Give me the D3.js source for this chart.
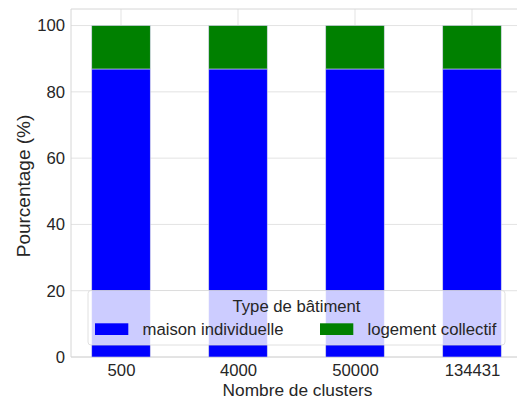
<!DOCTYPE html>
<html><head><meta charset="utf-8">
<script src="https://cdn.jsdelivr.net/npm/d3@7"></script>
<style>body{margin:0;background:#fff}svg{display:block}text{font-family:"Liberation Sans",Arial,sans-serif;fill:#262626}</style>
</head><body>
<svg id="chart" width="517" height="399"></svg>
<script>
const categories = ["500", "4000", "50000", "134431"];
const seriesNames = ["maison individuelle", "logement collectif"];
const maison = [86.9, 86.9, 86.9, 86.9];
const logement = [13.1, 13.1, 13.1, 13.1];
const colors = ["#0000ff", "#008000"];
const yTicks = [0, 20, 40, 60, 80, 100];
const legendTitle = "Type de bâtiment";
const xTitle = "Nombre de clusters";
const yTitle = "Pourcentage (%)";

const svg = d3.select("#chart");
const L = 71, T = 9, B = 357, R = 522;
const x = d3.scaleLinear().domain([-0.4274, categories.length - 1 + 0.4274]).range([L, R]);
const y = d3.scaleLinear().domain([0, 105]).range([B, T]);
const fs = 16.7;

// grid
const g = svg.append("g");
g.selectAll(".hg").data(yTicks).enter().append("line")
  .attr("x1", L).attr("x2", R).attr("y1", d => y(d)).attr("y2", d => y(d))
  .attr("stroke", "#e3e3e3").attr("stroke-width", 1);
g.selectAll(".vg").data(categories).enter().append("line")
  .attr("x1", (d, i) => x(i)).attr("x2", (d, i) => x(i)).attr("y1", T).attr("y2", B)
  .attr("stroke", "#e3e3e3").attr("stroke-width", 1);

// spines
svg.append("line").attr("x1", L).attr("x2", L).attr("y1", T).attr("y2", B).attr("stroke", "#d6d6d6");
svg.append("line").attr("x1", L).attr("x2", R).attr("y1", T).attr("y2", T).attr("stroke", "#d6d6d6");
svg.append("line").attr("x1", L).attr("x2", R).attr("y1", B).attr("y2", B).attr("stroke", "#d6d6d6");

// stacked bars
const rows = categories.map((c, i) => ({ cat: c, i, maison: maison[i], logement: logement[i] }));
const stack = d3.stack().keys(["maison", "logement"])(rows);
const bw = x(0.25) - x(-0.25);
stack.forEach((layer, k) => {
  svg.append("g").selectAll("rect").data(layer).enter().append("rect")
    .attr("x", (d, i) => x(i) - bw / 2)
    .attr("width", bw)
    .attr("y", d => y(d[1]))
    .attr("height", d => y(d[0]) - y(d[1]))
    .attr("fill", colors[k])
    .attr("stroke", "#d0d0e8").attr("stroke-width", 0.6);
});

// y ticks
const yAxis = d3.axisLeft(y).tickValues(yTicks).tickSize(0).tickPadding(6);
const ya = svg.append("g").attr("transform", `translate(${L},0)`).call(yAxis);
ya.select(".domain").remove();
ya.selectAll("text").style("font-size", fs + "px").attr("fill", "#262626")
  .attr("font-family", "Liberation Sans, Arial, sans-serif");

// x ticks
const xAxis = d3.axisBottom(x).tickValues(categories.map((c, i) => i)).tickFormat(i => categories[i]).tickSize(0).tickPadding(7);
const xa = svg.append("g").attr("transform", `translate(0,${B})`).call(xAxis);
xa.select(".domain").remove();
xa.selectAll("text").style("font-size", fs + "px").attr("fill", "#262626")
  .attr("font-family", "Liberation Sans, Arial, sans-serif");

// axis titles
svg.append("text").attr("x", 297.5).attr("y", 395.5).attr("text-anchor", "middle")
  .style("font-size", "17.3px").text(xTitle);
svg.append("text").attr("transform", `translate(29.5,186) rotate(-90)`).attr("text-anchor", "middle")
  .style("font-size", "19px").text(yTitle);

// legend
const lg = svg.append("g");
lg.append("rect").attr("x", 88).attr("y", 290.5).attr("width", 417).attr("height", 54.5).attr("rx", 3)
  .attr("fill", "#ffffff").attr("fill-opacity", 0.8).attr("stroke", "#d8d8d8").attr("stroke-width", 0.8);
lg.append("text").attr("x", 296.5).attr("y", 311.5).attr("text-anchor", "middle").style("font-size", fs + "px").text(legendTitle);
const items = [{ px: 95, tx: 142.5 }, { px: 320, tx: 367.5 }];
seriesNames.forEach((n, k) => {
  lg.append("rect").attr("x", items[k].px).attr("y", 323.3).attr("width", 33.3).attr("height", 11.7).attr("fill", colors[k]);
  lg.append("text").attr("x", items[k].tx).attr("y", 335).style("font-size", fs + "px").text(n);
});
</script>
</body></html>
